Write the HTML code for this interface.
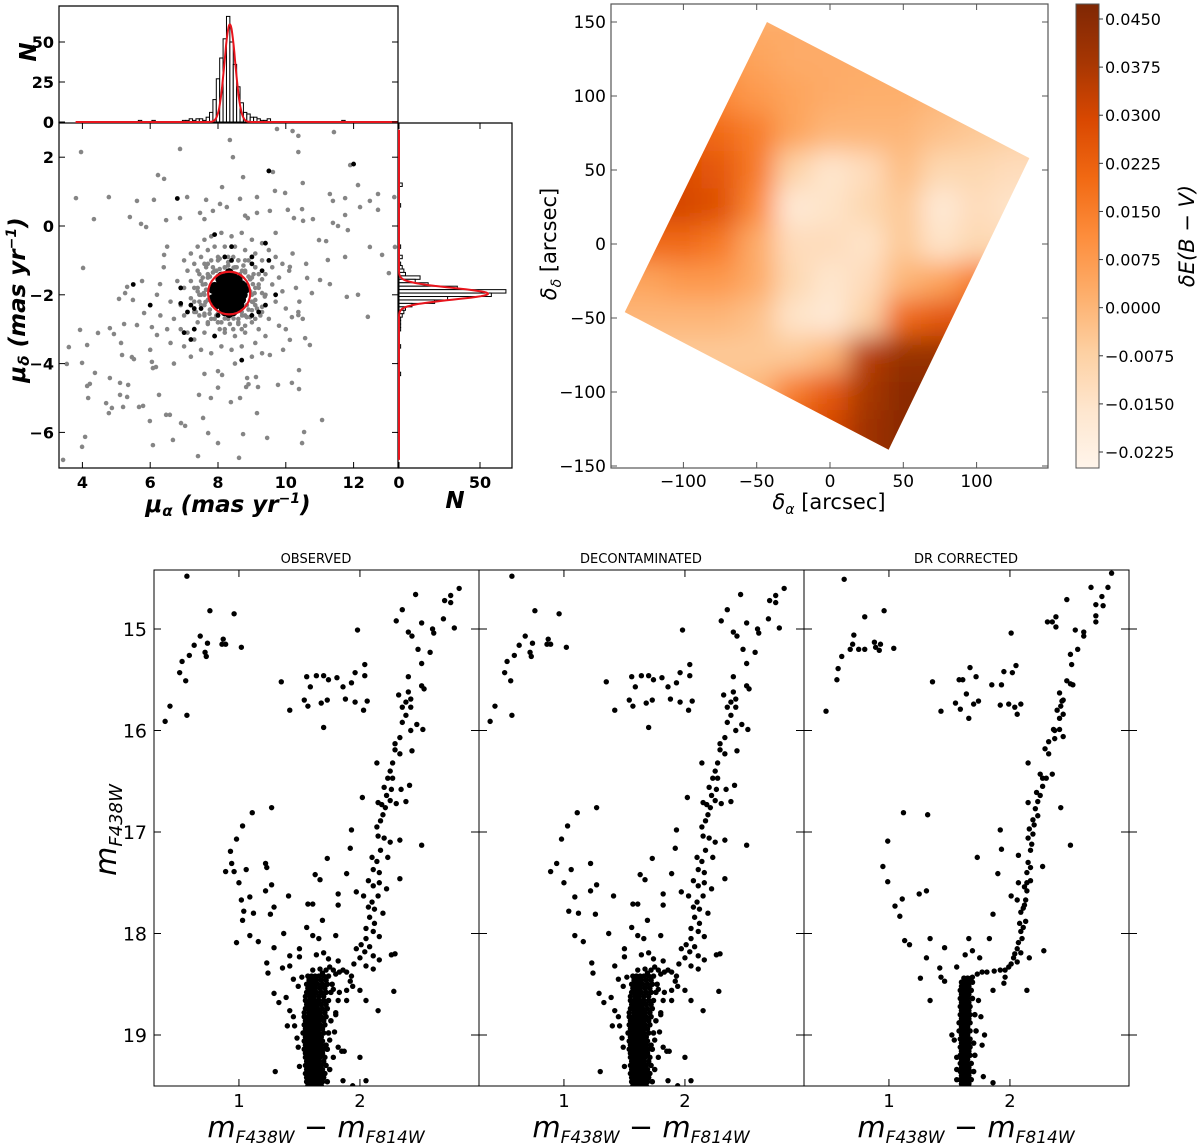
<!DOCTYPE html>
<html><head><meta charset="utf-8"><style>
html,body{margin:0;padding:0;background:#fff;}
svg{display:block;font-family:"DejaVu Sans","Liberation Sans",sans-serif;}
</style></head><body>
<svg id="fig" width="1200" height="1147" viewBox="0 0 1200 1147" xmlns="http://www.w3.org/2000/svg">
<defs>
<filter id="blur" x="-20%" y="-20%" width="140%" height="140%"><feGaussianBlur stdDeviation="13"/></filter>
<linearGradient id="cbgrad" x1="0" y1="1" x2="0" y2="0">
<stop offset="0" stop-color="#fff5eb"/><stop offset="0.125" stop-color="#fee6ce"/><stop offset="0.25" stop-color="#fdd0a2"/><stop offset="0.375" stop-color="#fdae6b"/><stop offset="0.5" stop-color="#fd8d3c"/><stop offset="0.625" stop-color="#f16913"/><stop offset="0.75" stop-color="#d94801"/><stop offset="0.875" stop-color="#a63603"/><stop offset="1" stop-color="#7f2704"/>
</linearGradient>
</defs>
</svg>
<script>
// ===== Proper motion data =====
const pmGrey = [[6.88,2.24],[3.96,2.15],[8.35,2.5],[9.74,2.82],[10.2,2.76],[10.37,2.62],[11.42,2.73],[10.37,2.15],[8.44,2.0],[11.9,1.77],[9.62,1.57],[8.74,1.42],[6.23,1.48],[6.41,1.37],[10.5,1.25],[8.12,1.13],[12.13,1.19],[3.81,0.81],[4.78,0.84],[5.61,0.73],[6.11,0.76],[7.09,0.84],[7.65,0.76],[8.06,0.64],[8.65,0.79],[9.15,0.84],[9.68,1.02],[9.98,0.96],[11.3,0.93],[11.39,0.73],[11.75,0.81],[12.19,0.55],[12.72,0.93],[12.72,0.47],[12.48,0.73],[13.2,0.84],[4.34,0.2],[5.4,0.26],[5.73,0.06],[5.88,-0.03],[6.47,0.17],[6.88,0.23],[7.47,0.38],[7.85,0.44],[8.26,0.55],[8.88,0.23],[9.15,0.38],[9.53,0.44],[10.06,0.47],[10.24,0.23],[10.48,0.49],[10.51,0.15],[10.8,0.2],[11.39,0.09],[11.75,0.32],[11.54,0],[11.83,-0.12],[4.02,-1.22],[13.04,-1.37],[13.22,-0.61],[12.48,-0.61],[12.84,-0.84],[11.75,-0.9],[11.24,-0.99],[10.98,-0.41],[11.19,-0.44],[11.8,-2.06],[12.13,-2.0],[12.42,-2.64],[11.3,-1.69],[10.63,-1.51],[5.32,-1.77],[5.08,-2.12],[5.49,-2.15],[5.26,-1.95],[5.76,-1.6],[6.29,-1.69],[6.41,-0.84],[3.93,-3.02],[4.14,-3.46],[3.6,-3.52],[4.46,-3.11],[4.81,-2.97],[4.93,-3.14],[5.23,-2.85],[5.61,-2.88],[5.14,-3.4],[5.82,-2.53],[6.05,-2.94],[6.2,-3.17],[3.54,-4.01],[3.99,-3.98],[4.37,-4.27],[5.17,-3.75],[5.46,-3.81],[5.52,-3.87],[6.05,-3.95],[6.17,-4.1],[6.08,-4.13],[4.14,-4.65],[4.22,-4.59],[4.81,-4.42],[5.11,-4.56],[5.35,-4.62],[4.17,-5.0],[5.11,-4.91],[5.32,-4.97],[4.7,-5.15],[4.78,-5.44],[5.2,-5.26],[4.87,-5.29],[5.67,-5.26],[5.79,-5.23],[6.26,-4.91],[6.47,-5.49],[6.58,-5.49],[6.91,-5.73],[7.03,-5.81],[7.56,-5.58],[5.99,-5.67],[4.08,-6.13],[3.99,-6.42],[6.08,-6.37],[6.67,-6.22],[7.71,-6.02],[8.0,-6.31],[8.74,-6.05],[9.15,-5.44],[9.45,-6.16],[7.44,-4.91],[7.79,-5.0],[8.38,-5.12],[8.65,-5.0],[10.39,-4.74],[10.18,-4.56],[10.54,-5.99],[10.48,-6.31],[11.07,-5.64],[3.43,-6.8],[7.41,-6.69],[8.62,-6.74],[8.0,-4.22],[8.12,-4.33],[8.86,-4.42],[9.12,-4.39],[9.77,-4.62],[10.39,-4.19],[8.83,-4.68],[9.18,-4.68],[10.12,-3.31],[10.57,-3.26],[10.71,-3.46],[9.92,-3.6],[9.53,-3.75],[10.37,-2.5],[10.37,-2.59],[10.18,-2.65],[10.77,-1.95],[11.01,-1.57],[10.12,-1.19],
[7.0,-1.0],[7.2,-0.8],[7.4,-0.6],[7.6,-0.4],[7.8,-0.3],[8.1,-0.2],[8.4,-0.3],[8.7,-0.2],[9.0,-0.4],[9.3,-0.5],[9.5,-0.7],[9.7,-0.9],[9.9,-1.1],[10.1,-1.3],[7.1,-1.3],[7.3,-1.1],[7.5,-0.9],[7.7,-0.7],[7.9,-0.6],[8.2,-0.6],[8.5,-0.6],[8.8,-0.7],[9.1,-0.8],[9.3,-1.0],[9.6,-1.2],[9.8,-1.5],[6.8,-1.6],[7.0,-1.8],[7.2,-1.6],[7.4,-1.3],[7.6,-1.1],[7.8,-1.0],[8.0,-0.9],[8.3,-0.9],[8.6,-1.0],[8.9,-1.0],[9.1,-1.2],[9.4,-1.4],[9.6,-1.7],[9.9,-1.9],[6.6,-2.2],[6.9,-2.3],[7.2,-2.1],[7.4,-1.9],[7.5,-1.6],[7.7,-1.4],[7.9,-1.3],[8.2,-1.2],[8.5,-1.2],[8.8,-1.3],[9.0,-1.5],[9.2,-1.7],[9.4,-2.0],[9.7,-2.2],[10.0,-2.4],[6.7,-2.7],[7.0,-2.6],[7.3,-2.5],[7.5,-2.3],[7.6,-2.0],[9.0,-2.0],[9.1,-2.3],[9.3,-2.5],[9.5,-2.7],[9.8,-2.9],[6.9,-3.0],[7.1,-3.1],[7.4,-2.8],[7.6,-2.6],[7.8,-2.7],[8.0,-2.8],[8.3,-2.7],[8.6,-2.7],[8.8,-2.6],[9.0,-2.8],[9.2,-3.0],[9.4,-3.2],[6.6,-3.4],[7.0,-3.5],[7.3,-3.3],[7.6,-3.1],[7.9,-3.2],[8.2,-3.1],[8.5,-3.2],[8.8,-3.1],[9.1,-3.4],[7.2,-3.8],[7.5,-3.6],[7.8,-3.7],[8.1,-3.5],[8.4,-3.6],[8.7,-3.5],[9.0,-3.8],[6.4,-1.2],[6.2,-2.0],[6.3,-2.6],[6.5,-3.0],[10.3,-1.8],[10.4,-2.2],[10.2,-0.8],[10.6,-1.1],[6.0,-3.6],[6.7,-4.0],[7.6,-4.3],[8.5,-4.0],[9.3,-3.7],[10.0,-3.0],[10.5,-2.7],[8.0,-4.7],[8.9,-4.6],[6.5,-0.6],[7.6,0.2],[8.8,0.3],[9.7,-0.2],
[7.5,-2.0],[7.55,-1.7],[7.6,-2.3],[7.7,-1.5],[7.75,-2.55],[7.85,-1.35],[7.9,-2.7],[8.05,-1.25],[8.1,-2.8],[8.3,-1.15],[8.35,-2.85],[8.55,-1.2],[8.6,-2.8],[8.8,-1.35],[8.85,-2.65],[8.95,-1.55],[9.0,-2.45],[9.1,-1.8],[9.1,-2.15],[7.4,-1.8],[7.45,-2.2],[7.65,-1.2],[7.7,-2.8],[8.0,-1.0],[8.2,-3.0],[8.6,-1.0],[8.7,-3.0],[9.2,-1.4],[9.25,-2.6],[7.35,-2.5],[9.3,-1.95],[7.8,-1.7],[7.85,-2.3],[8.8,-1.7],[8.85,-2.3],[7.65,-1.85],[7.7,-2.15],[8.95,-1.9],[9.0,-2.2],[8.0,-1.45],[8.65,-1.4],[8.0,-2.55],[8.7,-2.5],
[9.08,-1.95],[9.03,-1.69],[8.9,-1.47],[8.71,-1.3],[8.46,-1.21],[8.2,-1.21],[7.95,-1.3],[7.76,-1.47],[7.63,-1.69],[7.58,-1.95],[7.63,-2.21],[7.76,-2.43],[7.95,-2.6],[8.2,-2.69],[8.46,-2.69],[8.71,-2.6],[8.9,-2.43],[9.03,-2.21],
[9.38,-2.05],[9.3,-1.55],[9.1,-1.2],[8.8,-1.0],[8.45,-0.9],[8.05,-0.95],[7.7,-1.1],[7.45,-1.4],[7.3,-1.8],[7.3,-2.2],[7.45,-2.6],[7.7,-2.85],[8.05,-3.0],[8.45,-3.0],[8.8,-2.9],[9.1,-2.7],[9.3,-2.35],
[9.2,-1.8],[9.15,-2.4],[8.95,-2.65],[8.6,-2.85],[8.0,-2.8],[7.6,-2.55],[7.45,-2.0],[7.55,-1.5],[7.85,-1.2],[8.3,-1.05],[8.75,-1.15],[9.05,-1.4]];
const pmBlack = [[8.33,-1.95],[8.1,-1.9],[8.2,-1.7],[8.4,-1.6],[8.55,-1.8],[8.6,-2.05],[8.5,-2.3],[8.3,-2.4],[8.1,-2.25],[7.95,-2.0],[8.0,-1.75],[8.25,-1.5],[8.45,-1.45],[8.7,-1.7],[8.75,-2.0],[8.65,-2.3],[8.45,-2.5],[8.2,-2.5],[7.95,-2.3],[7.85,-1.85],[8.05,-1.55],[8.3,-1.75],[8.4,-2.1],[8.2,-2.1],[8.35,-2.25],[8.5,-1.95],[8.15,-2.0],[8.4,-1.85],[8.25,-1.95],[8.55,-2.15],[8.0,-2.1],[8.3,-1.6],[8.6,-1.55],[8.1,-1.6],[8.7,-2.15],[7.9,-1.75],[8.35,-1.4],[8.3,-2.5],[7.85,-2.1],[8.8,-1.85],[8.15,-2.4],[8.55,-2.4],[8.1,-1.45],[8.6,-1.65],[8.0,-1.95],[8.65,-1.9],[8.33,-2.55],[8.33,-1.35],[7.9,-2.15],[8.75,-1.75],[8.5,-1.7],[8.15,-1.8],[8.25,-2.3],[8.45,-2.0],
[7.3,-2.4],[7.2,-2.3],[6.9,-1.8],[6.9,-2.25],[7.1,-2.5],[7.5,-2.4],[7.3,-3.0],[7.0,-3.1],[7.2,-3.3],[5.5,-1.7],[6.0,-2.3],[7.9,-3.2],[8.0,-2.6],[8.7,-3.9],[9.2,-2.5],[9.0,-2.6],[9.4,-2.3],[9.5,-1.0],[9.0,-0.9],[9.7,-2.0],[9.3,-1.3],[9.0,-1.1],[8.4,-0.6],[8.2,-0.9],[7.9,-0.25],[8.4,-1.0],[9.4,-0.5],[6.8,0.8],[12.0,1.8],[9.5,1.6]];
const pmCoreCount = 54;
const pmCircle = [8.33,-1.95,0.62];
const histXbins = [7.0,7.1,7.2,7.3,7.4,7.5,7.6,7.7,7.8,7.9,8.0,8.1,8.2,8.3,8.4,8.5,8.6,8.7,8.8,8.9,9.0,9.1,9.2,9.3,9.4,9.5,5.7,6.1,11.7];
const histXcounts = [1,1,2,1,2,2,1,3,6,14,27,40,52,66,50,36,22,12,6,5,3,3,2,1,1,2,1,1,1];
const histXfit = [8.35,0.16,61];
const histYbins = [1.2,0.6,-0.6,-0.9,-1.1,-1.2,-1.3,-1.4,-1.5,-1.6,-1.7,-1.8,-1.9,-2.0,-2.1,-2.2,-2.3,-2.4,-2.5,-2.6,-2.7,-2.8,-2.9,-3.0,-3.5,-4.3];
const histYcounts = [2,1,1,2,1,2,3,4,13,10,18,36,66,57,30,22,8,4,3,2,1,1,1,1,1,1];
const histYfit = [-1.97,0.17,55];

// ===== Reddening map data (values in units of 0.001) =====
const mapX = [-150,-125,-100,-75,-50,-25,0,25,50,75,100,125,150];
const mapY = [150,125,100,75,50,25,0,-25,-50,-75,-100,-125,-150];
const mapVals = [
[5,5,5,5,3,3,3,3,3,0,0,0,0],
[8,8,8,8,5,3,3,3,2,0,0,0,0],
[18,18,15,12,8,5,3,2,2,0,-3,-5,-5],
[25,25,22,20,15,5,0,0,0,-3,-5,-7,-7],
[30,30,28,25,16,-8,-16,-12,-2,-10,-10,-12,-12],
[30,30,30,27,12,-18,-15,-10,-5,-18,-12,-15,-15],
[20,20,20,16,3,-12,-12,-15,-5,-15,-10,-12,-12],
[5,5,8,8,3,-10,-16,-12,0,5,15,15,15],
[0,0,0,0,-3,-15,-18,-8,20,25,28,28,28],
[-5,-5,-5,-5,-5,-5,0,35,42,42,35,35,35],
[-5,-5,-5,-3,0,15,25,38,45,45,40,40,40],
[0,0,0,0,10,25,30,40,45,45,40,40,40],
[0,0,0,0,10,25,30,40,45,45,40,40,40]];
const mapCorners = [[-43,150],[136,58],[40,-139],[-140,-46]];
const cbTicks = ["0.0450","0.0375","0.0300","0.0225","0.0150","0.0075","0.0000","−0.0075","−0.0150","−0.0225"];
const cbTickVals = [0.045,0.0375,0.03,0.0225,0.015,0.0075,0,-0.0075,-0.015,-0.0225];

// ===== CMD data [colour, magnitude] =====
const cmdObs = [[0.57,14.48],[0.76,14.82],[0.96,14.85],[0.68,15.07],[0.63,15.16],[0.72,15.23],[0.74,15.14],[0.86,15.15],[0.89,15.15],[0.87,15.1],[1.02,15.18],[0.59,15.26],[0.53,15.32],[0.51,15.43],[0.56,15.51],[0.43,15.76],[0.57,15.85],[0.39,15.91],[0.73,15.27],
[1.35,15.52],[1.56,15.47],[1.59,15.57],[1.64,15.46],[1.70,15.46],[1.74,15.5],[1.81,15.48],[1.86,15.57],[1.93,15.53],[1.96,15.43],[2.04,15.46],[2.04,15.35],[1.54,15.7],[1.57,15.76],[1.68,15.73],[1.73,15.7],[1.88,15.69],[1.96,15.72],[2.06,15.71],[2.03,15.8],[1.42,15.8],[1.70,15.97],[1.98,15.01],
[2.82,14.6],[2.75,14.67],[2.70,14.72],[2.75,14.74],[2.46,14.66],[2.35,14.81],[2.30,14.92],[2.51,14.94],[2.69,14.9],[2.78,14.99],[2.60,15.0],[2.61,15.04],[2.40,15.03],[2.43,15.07],[2.48,15.2],[2.58,15.23],[2.51,15.34],[2.40,15.47],[2.51,15.56],[2.53,15.59],[2.32,15.65],[2.40,15.62],[2.42,15.69],[2.38,15.72],[2.35,15.77],[2.42,15.77],[2.38,15.85],[2.35,15.92],[2.42,16.0],[2.47,15.94],[2.52,15.99],[2.33,16.07],[2.29,16.13],[2.29,16.19],[2.33,16.23],[2.43,16.2],[2.27,16.32],[2.14,16.32],[2.25,16.4],[2.23,16.47],[2.27,16.47],[2.2,16.56],[2.26,16.58],[2.34,16.58],[2.41,16.54],[2.22,16.64],[2.25,16.69],[2.18,16.73],[2.21,16.76],[2.30,16.72],[2.38,16.7],[2.15,16.71],[2.02,16.66],[2.19,16.83],[2.17,16.89],[2.14,16.95],[2.15,17.04],[2.20,17.06],[2.25,17.1],[2.33,17.08],[2.17,17.18],[2.23,17.25],[2.10,17.25],[2.14,17.29],[2.11,17.37],[2.16,17.4],[2.07,17.48],[2.11,17.53],[2.16,17.5],[2.22,17.56],[2.33,17.46],[2.15,17.63],[2.10,17.69],[2.07,17.74],[2.12,17.76],[2.19,17.8],[2.08,17.84],[2.12,17.9],[2.05,17.95],[2.11,17.98],[2.16,18.03],[2.05,18.05],[2.01,18.11],[2.08,18.13],[2.04,18.18],[1.97,18.15],[2.11,18.22],[2.00,18.24],[2.16,18.26],[1.95,18.3],[2.26,18.21],[2.29,18.2],[1.93,18.42],[2.05,18.32],[2.11,18.35],[2.28,18.57],[2.15,18.76],[2.05,18.66],[2.51,17.13],
[1.61,18.36],[1.67,18.35],[1.72,18.36],[1.78,18.36],[1.83,18.38],[1.89,18.38],[1.86,18.36],[1.74,18.25],[1.82,18.27],[1.64,18.21],[1.70,18.19],[1.92,18.47],[1.94,18.52],[2.00,18.56],[1.89,18.56],[1.83,18.58],[1.78,18.55],[1.82,18.66],[1.89,18.66],[1.80,18.78],[1.75,18.33],[1.80,18.4],[1.69,18.39],
[1.27,16.76],[1.11,16.81],[1.03,16.94],[0.98,17.07],[0.93,17.19],[0.94,17.31],[0.89,17.39],[0.96,17.39],[1.06,17.37],[1.0,17.5],[1.02,17.67],[1.09,17.64],[1.04,17.78],[1.03,17.87],[1.12,17.8],[1.09,18.02],[0.98,18.09],[1.16,18.08],[1.22,17.31],[1.23,17.35],[1.27,17.52],[1.22,17.58],[1.29,17.74],[1.26,17.81],[1.37,18.0],[1.29,18.14],[1.23,18.29],[1.24,18.39],[1.29,18.59],[1.33,18.68],[1.39,18.63],[1.42,18.22],[1.50,18.15],[1.50,18.23],[1.36,18.34],[1.42,18.32],[1.45,18.45],[1.52,18.43],[1.49,18.52],[1.42,18.76],[1.45,18.82],[1.40,18.91],[1.46,18.91],[1.48,19.03],[1.49,19.12],[1.50,19.31],[1.30,19.36],[1.56,17.94],[1.61,18.02],[1.66,18.05],[1.69,17.87],[1.57,17.71],[1.61,17.71],[1.63,17.42],[1.67,17.47],[1.73,17.26],[1.41,17.63],[1.82,17.61],[1.82,17.72],[1.80,18.02],[1.89,17.41],[1.92,17.16],[1.93,16.98],[1.97,17.59],[2.03,17.63],[2.0,19.22],[2.05,19.45],[1.85,19.16],[1.86,19.45],[1.79,18.97],[1.80,18.8],[1.75,19.05],[1.78,19.22],[1.82,19.12],[1.87,19.16],[1.94,19.5]];
const msObsRows = [
[18.42,1.57,1.60,1.63,1.66,1.70,1.74],[18.46,1.58,1.61,1.64,1.68,1.72],[18.50,1.56,1.59,1.62,1.65,1.69,1.73,1.77],[18.54,1.57,1.60,1.63,1.67,1.71],
[18.58,1.56,1.58,1.61,1.64,1.68,1.72,1.76],[18.62,1.55,1.59,1.62,1.66,1.70],[18.66,1.55,1.58,1.60,1.63,1.66,1.70,1.74],[18.70,1.56,1.59,1.62,1.65,1.68,1.72],
[18.74,1.55,1.57,1.60,1.62,1.65,1.69,1.73],[18.78,1.54,1.58,1.61,1.64,1.67,1.71],[18.82,1.54,1.57,1.59,1.62,1.65,1.68,1.72],[18.86,1.55,1.58,1.60,1.63,1.66,1.70,1.76],
[18.90,1.54,1.56,1.59,1.61,1.64,1.67,1.71],[18.94,1.55,1.57,1.60,1.63,1.66,1.69],[18.98,1.53,1.56,1.58,1.61,1.63,1.66,1.70,1.74],[19.02,1.55,1.57,1.60,1.62,1.65,1.68],
[19.06,1.54,1.56,1.59,1.61,1.64,1.66,1.69],[19.10,1.55,1.58,1.60,1.63,1.65,1.68,1.72],[19.14,1.54,1.57,1.59,1.62,1.64,1.67,1.70,1.73],[19.18,1.55,1.58,1.61,1.63,1.66,1.69],
[19.22,1.55,1.57,1.60,1.62,1.65,1.67,1.71],[19.26,1.56,1.58,1.61,1.64,1.66,1.70],[19.30,1.55,1.57,1.60,1.62,1.65,1.68,1.72],[19.34,1.56,1.58,1.61,1.63,1.66,1.69,1.75],
[19.38,1.55,1.58,1.60,1.63,1.65,1.68,1.71],[19.42,1.56,1.59,1.62,1.64,1.67,1.70],[19.46,1.56,1.58,1.61,1.63,1.66,1.69,1.73],[19.50,1.57,1.59,1.62,1.65,1.68]];
const cmdDR = [[0.63,14.51],[0.80,14.88],[0.96,14.82],[0.71,15.06],[0.70,15.15],[0.68,15.2],[0.75,15.2],[0.80,15.2],[0.88,15.13],[0.89,15.18],[0.92,15.21],[0.93,15.15],[1.04,15.19],[0.61,15.27],[0.58,15.39],[0.57,15.5],[0.48,15.81],
[1.36,15.52],[1.58,15.5],[1.61,15.5],[1.67,15.38],[1.72,15.47],[1.64,15.64],[1.70,15.74],[1.74,15.71],[1.55,15.73],[1.59,15.79],[1.66,15.88],[1.43,15.81],[1.85,15.55],[1.93,15.55],[1.95,15.42],[2.02,15.43],[2.05,15.36],[1.92,15.75],[1.99,15.74],[2.04,15.77],[2.06,15.84],[2.09,15.74],[2.01,15.04],
[2.84,14.45],[2.67,14.59],[2.81,14.59],[2.76,14.68],[2.71,14.76],[2.77,14.77],[2.71,14.87],[2.71,14.93],[2.47,14.71],[2.38,14.88],[2.31,14.93],[2.35,14.93],[2.38,14.98],[2.54,15.01],[2.61,15.03],[2.61,15.07],[2.56,15.2],[2.50,15.25],[2.51,15.35],[2.47,15.51],[2.50,15.54],[2.52,15.55],[2.41,15.63],[2.43,15.71],[2.42,15.76],[2.39,15.8],[2.44,15.84],[2.41,15.88],[2.36,15.99],[2.41,15.99],[2.44,16.06],[2.37,16.08],[2.32,16.11],[2.29,16.18],[2.32,16.23],[2.35,16.43],[2.25,16.43],[2.27,16.47],[2.30,16.47],[2.15,16.32],[2.22,16.61],[2.25,16.64],[2.23,16.70],[2.21,16.77],[2.23,16.84],[2.20,16.93],[2.16,16.97],[2.19,17.02],[2.15,17.06],[2.17,17.18],[2.15,16.71],[2.42,16.76],[2.50,17.13],[2.15,17.3],[2.17,17.35],[2.14,17.4],[2.17,17.48],[2.14,17.5],[2.12,17.54],[2.14,17.58],[2.27,17.34],[2.07,17.5],[2.13,17.67],[2.11,17.75],[2.09,17.79],[2.13,17.88],[2.11,17.94],[2.09,17.98],[2.10,18.05],[2.07,18.09],[2.06,18.15],[2.09,18.19],[2.03,18.24],[2.06,18.28],[2.01,18.3],[1.96,18.36],[1.92,18.36],[1.87,18.37],[1.81,18.38],[1.77,18.38],[1.73,18.40],[1.69,18.43],[1.96,18.43],[1.95,18.49],[2.16,18.24],[2.28,18.17],[2.14,18.56],[2.07,17.23],[2.01,17.63],[2.06,17.67],[1.92,16.98],[1.93,17.17],[1.73,17.25],[1.90,17.41],[1.86,17.81],[1.83,18.05],[1.66,18.05],[1.69,18.17],[1.75,18.24],[1.63,18.21],[1.56,18.33],[2.19,16.88],[2.18,17.12],[2.12,17.72],[2.08,17.9],[2.04,18.2],[1.99,18.33],[2.27,16.55],[2.37,16.0],[2.44,15.7],
[1.12,16.81],[1.32,16.83],[0.99,17.09],[0.95,17.34],[0.99,17.49],[1.05,17.73],[1.11,17.66],[1.09,17.83],[1.25,17.61],[1.31,17.58],[1.13,18.07],[1.17,18.11],[1.34,18.05],[1.31,18.24],[1.26,18.44],[1.34,18.66],[1.46,18.14],[1.42,18.34],[1.43,18.43],[1.46,18.47],[1.86,18.56],
[1.52,19.0],[1.54,19.05],[1.56,19.22],[1.56,19.34],[1.56,19.44],[1.76,18.82],[1.79,19.0],[1.77,19.1],[1.78,19.41],[1.86,19.47],[1.74,18.66]];
const msDRRows = [
[18.44,1.62,1.65,1.68],[18.48,1.60,1.63,1.66,1.69],[18.52,1.60,1.63,1.66],[18.56,1.59,1.62,1.65,1.68],[18.60,1.60,1.63,1.66],[18.64,1.59,1.62,1.65,1.69],
[18.68,1.60,1.63,1.66],[18.72,1.59,1.62,1.64,1.67],[18.76,1.60,1.63,1.66],[18.80,1.59,1.61,1.64,1.67,1.71],[18.84,1.60,1.63,1.66],[18.88,1.58,1.61,1.64,1.67],
[18.92,1.60,1.62,1.65],[18.96,1.58,1.61,1.64,1.67,1.72],[19.00,1.60,1.62,1.65],[19.04,1.59,1.61,1.64,1.67],[19.08,1.60,1.63,1.66,1.70],[19.12,1.59,1.62,1.64,1.67],
[19.16,1.60,1.63,1.66],[19.20,1.59,1.61,1.64,1.67,1.71],[19.24,1.60,1.62,1.65],[19.28,1.59,1.62,1.65,1.68],[19.32,1.60,1.63,1.66],[19.36,1.59,1.62,1.64,1.67,1.70],
[19.40,1.60,1.63,1.66],[19.44,1.59,1.62,1.65,1.68],[19.48,1.60,1.63,1.66],[19.52,1.61,1.64,1.67]];
const cmdTitles = ["OBSERVED","DECONTAMINATED","DR CORRECTED"];
const cmdYTicks = [15,16,17,18,19];
const cmdXTicks = [1,2];

// ===== helpers =====
const svg = document.getElementById('fig');
const NS = 'http://www.w3.org/2000/svg';
function mk(tag, attrs, parent){ const e=document.createElementNS(NS,tag); for(const k in attrs) e.setAttribute(k,attrs[k]); (parent||svg).appendChild(e); return e; }
function txt(s, attrs, parent){ const e=mk('text',attrs,parent); e.textContent=s; return e; }

// ===== PM panel =====
const pmX = v => 218 + (v-8)*33.9;
const pmY = v => 226 - v*34.4;
const pm = mk('g',{});


const pmClip = mk('clipPath',{id:'pmclip'}); mk('rect',{x:59,y:123,width:339,height:345},pmClip);
const pmPts = mk('g',{'clip-path':'url(#pmclip)'},pm);


pmGrey.forEach(p=>{ const c=mk('circle',{cx:pmX(p[0]),cy:pmY(p[1]),r:2.3,fill:'#858585'},pmPts);
    });
pmBlack.forEach((p,i)=>{ const c=mk('circle',{cx:pmX(p[0]),cy:pmY(p[1]),r:i<pmCoreCount?4.3:2.4,fill:'#000'},pmPts);
    });
const circ = mk('ellipse',{cx:pmX(pmCircle[0]),cy:pmY(pmCircle[1]),rx:pmCircle[2]*33.9,ry:pmCircle[2]*34.4,fill:'none',stroke:'#e8141c','stroke-width':2.2},pm);
 
mk('rect',{x:59,y:123,width:339,height:345,fill:'none',stroke:'#000','stroke-width':1.2},pm);
[4,6,8,10,12].forEach(v=>{ const x=pmX(v); mk('line',{x1:x,y1:468,x2:x,y2:462,stroke:'#000'},pm); mk('line',{x1:x,y1:123,x2:x,y2:129,stroke:'#000'},pm);
  txt(String(v),{x:x,y:488,'text-anchor':'middle','font-size':16,'font-weight':'bold'},pm); });
[2,0,-2,-4,-6].forEach(v=>{ const y=pmY(v); mk('line',{x1:59,y1:y,x2:65,y2:y,stroke:'#000'},pm); mk('line',{x1:398,y1:y,x2:392,y2:y,stroke:'#000'},pm);
  txt(v<0?'−'+(-v):String(v),{x:54,y:y+6,'text-anchor':'end','font-size':16,'font-weight':'bold'},pm); });
const xl = txt('',{x:228,y:512,'text-anchor':'middle','font-size':23,'font-weight':'bold','font-style':'italic'},pm);
xl.innerHTML='μ<tspan font-size="15" dy="4">α</tspan><tspan dy="-4"> (mas yr</tspan><tspan font-size="14" dy="-9">−1</tspan><tspan dy="9">)</tspan>';
 
const yl = txt('',{x:0,y:0,'text-anchor':'middle','font-size':23,'font-weight':'bold','font-style':'italic',transform:'translate(25,300) rotate(-90)'},pm);
yl.innerHTML='μ<tspan font-size="15" dy="4">δ</tspan><tspan dy="-4"> (mas yr</tspan><tspan font-size="14" dy="-9">−1</tspan><tspan dy="9">)</tspan>';
 

// top histogram
const hxY = n => 122 - n*1.6;
const th = mk('g',{});  
histXbins.forEach((b,i)=>{ const x0=pmX(b-0.05), x1=pmX(b+0.05); const r=mk('rect',{x:x0,y:hxY(histXcounts[i]),width:x1-x0,height:histXcounts[i]*1.6,fill:'#fff',stroke:'#000','stroke-width':1},th);
    });
{ let d=''; for(let v=3.8; v<=13.3; v+=0.02){ const n=histXfit[2]*Math.exp(-0.5*Math.pow((v-histXfit[0])/histXfit[1],2)); d+=(d?'L':'M')+pmX(v).toFixed(1)+','+hxY(n).toFixed(1); }
  const p=mk('path',{d:d,fill:'none',stroke:'#e8141c','stroke-width':2},th);   }
mk('path',{d:'M59,123 V6 H398 V123',fill:'none',stroke:'#000','stroke-width':1.2},th);
[0,25,50].forEach(n=>{ const y=hxY(n); mk('line',{x1:59,y1:y,x2:65,y2:y,stroke:'#000'},th); mk('line',{x1:398,y1:y,x2:392,y2:y,stroke:'#000'},th);
  txt(String(n),{x:54,y:y+6,'text-anchor':'end','font-size':16,'font-weight':'bold'},th); });
txt('N',{x:0,y:0,'font-size':23,'font-weight':'bold','font-style':'italic','text-anchor':'middle',transform:'translate(36,52) rotate(-90)'},th);

// right histogram
const hyX = n => 399 + n*1.62;
const rh = mk('g',{});  
histYbins.forEach((b,i)=>{ const y0=pmY(b+0.05), y1=pmY(b-0.05); const r=mk('rect',{x:399,y:y0,width:histYcounts[i]*1.62,height:y1-y0,fill:'#fff',stroke:'#000','stroke-width':1},rh);
    });
{ let d=''; for(let v=2.8; v>=-6.8; v-=0.02){ const n=histYfit[2]*Math.exp(-0.5*Math.pow((v-histYfit[0])/histYfit[1],2)); d+=(d?'L':'M')+hyX(n).toFixed(1)+','+pmY(v).toFixed(1); }
  const p=mk('path',{d:d,fill:'none',stroke:'#e8141c','stroke-width':2},rh);   }
mk('path',{d:'M398,123 H512 V468 H398',fill:'none',stroke:'#000','stroke-width':1.2},rh);
[0,50].forEach(n=>{ const x=hyX(n); mk('line',{x1:x,y1:468,x2:x,y2:462,stroke:'#000'},rh); mk('line',{x1:x,y1:123,x2:x,y2:129,stroke:'#000'},rh);
  txt(String(n),{x:x,y:488,'text-anchor':'middle','font-size':16,'font-weight':'bold'},rh); });
txt('N',{x:455,y:508,'font-size':23,'font-weight':'bold','font-style':'italic','text-anchor':'middle'},rh);

// ===== Reddening map =====
const mX = v => 830 + v*73.3/50;
const mY = v => 244 - v*74/50;
const stops=[[255,245,235],[254,230,206],[253,208,162],[253,174,107],[253,141,60],[241,105,19],[217,72,1],[166,54,3],[127,39,4]];
function oranges(v){ let t=(v-(-0.025))/(0.0475+0.025); t=Math.max(0,Math.min(1,t))*8; const i=Math.min(7,Math.floor(t)), f=t-i;
  const c=stops[i].map((a,k)=>Math.round(a+(stops[i+1][k]-a)*f)); return 'rgb('+c.join(',')+')'; }
const map = mk('g',{});  
const mclip = mk('clipPath',{id:'mapclip'}); mk('polygon',{points:mapCorners.map(c=>mX(c[0])+','+mY(c[1])).join(' ')},mclip);
const mg = mk('g',{'clip-path':'url(#mapclip)'},map);
const mb = mk('g',{filter:'url(#blur)'},mg);
mapY.forEach((yv,j)=>mapX.forEach((xv,i)=>{ const w=25*73.3/50+0.5,h=37.5; const r=mk('rect',{x:mX(xv)-w/2,y:mY(yv)-h/2,width:w,height:h,fill:oranges(mapVals[j][i]/1000)},mb);
    }));
mk('rect',{x:611,y:4,width:437,height:464,fill:'none',stroke:'#555','stroke-width':1.2},map);
[-100,-50,0,50,100].forEach(v=>{ const x=mX(v); mk('line',{x1:x,y1:468,x2:x,y2:462,stroke:'#555'},map); mk('line',{x1:x,y1:4,x2:x,y2:10,stroke:'#555'},map);
  txt(v<0?'−'+(-v):String(v),{x:x,y:487,'text-anchor':'middle','font-size':17},map); });
[150,100,50,0,-50,-100,-150].forEach(v=>{ const y=mY(v); mk('line',{x1:611,y1:y,x2:617,y2:y,stroke:'#555'},map); mk('line',{x1:1048,y1:y,x2:1042,y2:y,stroke:'#555'},map);
  txt(v<0?'−'+(-v):String(v),{x:606,y:y+6,'text-anchor':'end','font-size':17},map); });
const mxl=txt('',{x:829,y:509,'text-anchor':'middle','font-size':21},map);
mxl.innerHTML='<tspan font-style="italic">δ</tspan><tspan font-size="14" font-style="italic" dy="5">α</tspan><tspan dy="-5"> [arcsec]</tspan>';
const myl=txt('',{x:0,y:0,'text-anchor':'middle','font-size':21,transform:'translate(556,244) rotate(-90)'},map);
myl.innerHTML='<tspan font-style="italic">δ</tspan><tspan font-size="14" font-style="italic" dy="5">δ</tspan><tspan dy="-5"> [arcsec]</tspan>';
// colorbar
const cb = mk('g',{});  
mk('rect',{x:1076,y:4,width:23,height:464,fill:'url(#cbgrad)',stroke:'#555','stroke-width':1},cb);
const cbY = v => 19 + (0.045-v)*6415;
cbTickVals.forEach((v,i)=>{ const y=cbY(v); mk('line',{x1:1099,y1:y,x2:1103,y2:y,stroke:'#333'},cb);
  txt(cbTicks[i],{x:1105,y:y+6,'font-size':16},cb); });
const cbl=txt('',{x:0,y:0,'text-anchor':'middle','font-size':21,'font-style':'italic',transform:'translate(1194,236) rotate(-90)'},cb);
cbl.textContent='δE(B − V)';



// ===== CMDs =====
const panels=[154,479,804];
const cTop=570, cBot=1086;
const cx = (p,v) => panels[p] + (v-0.298)*121;
const cy = v => 629 + (v-15)*101.5;
function drawCMD(p, pts, rows, name){
  const g=mk('g',{});  
  const clip=mk('clipPath',{id:'cmdclip'+p}); mk('rect',{x:panels[p],y:cTop,width:325,height:cBot-cTop},clip);
  const pg=mk('g',{'clip-path':'url(#cmdclip'+p+')'},g);
  pts.forEach(d=>{ const c=mk('circle',{cx:cx(p,d[0]),cy:cy(d[1]),r:2.7,fill:'#000'},pg);
      });
  rows.forEach(r=>{ for(let k=1;k<r.length;k++){ const c=mk('circle',{cx:cx(p,r[k]),cy:cy(r[0]),r:2.8,fill:'#000'},pg);
      } });
  mk('rect',{x:panels[p],y:cTop,width:325,height:cBot-cTop,fill:'none',stroke:'#000','stroke-width':1},g);
  cmdXTicks.forEach(v=>{ const x=cx(p,v); mk('line',{x1:x,y1:cBot,x2:x,y2:cBot-7,stroke:'#000'},g); mk('line',{x1:x,y1:cTop,x2:x,y2:cTop+7,stroke:'#000'},g);
    txt(String(v),{x:x,y:cBot+21,'text-anchor':'middle','font-size':18},g); });
  cmdYTicks.forEach(v=>{ const y=cy(v); const xr=panels[p]+325; mk('line',{x1:xr-8,y1:y,x2:xr+8,y2:y,stroke:'#000'},g);
    if(p===0){ mk('line',{x1:154,y1:y,x2:161,y2:y,stroke:'#000'},g); txt(String(v),{x:147,y:y+7,'text-anchor':'end','font-size':19},g); } });
  const t=txt(cmdTitles[p],{x:panels[p]+162,y:563,'text-anchor':'middle','font-size':13},g);
   
  const xl=txt('',{x:panels[p]+162,y:1137,'text-anchor':'middle','font-size':29,'font-style':'italic','font-family':'DejaVu Sans'},g);
  xl.innerHTML='m<tspan font-size="17" dy="6">F438W</tspan><tspan dy="-6" font-style="normal"> − </tspan>m<tspan font-size="17" dy="6">F814W</tspan>';
   
}
drawCMD(0, cmdObs, msObsRows, 'cmd-observed');
drawCMD(1, cmdObs.filter((d,i)=>!(d[0]<1.5 && d[1]>17.0 && d[1]<18.5 && i%3===0)), msObsRows, 'cmd-decontaminated');
drawCMD(2, cmdDR, msDRRows, 'cmd-dr-corrected');
const cyl=txt('',{x:0,y:0,'text-anchor':'middle','font-size':30,'font-style':'italic',transform:'translate(116,830) rotate(-90)'});
cyl.innerHTML='m<tspan font-size="18" dy="6">F438W</tspan>';


</script>
</body></html>
